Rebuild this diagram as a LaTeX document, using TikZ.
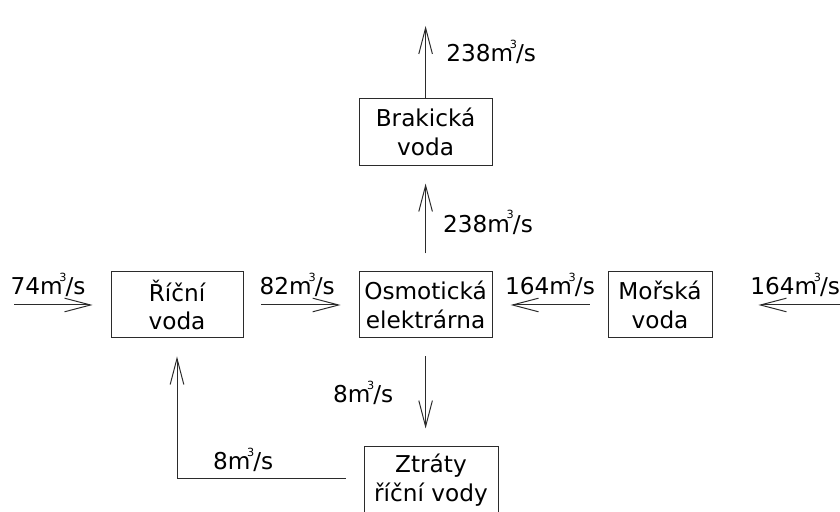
\documentclass[tikz,border=0pt]{standalone}
\usepackage{fontspec}
\setmainfont{DejaVu Sans}
\usetikzlibrary{arrows.meta,positioning}
\definecolor{Ink}{HTML}{2B2B2B}
\newcommand{\mcs}{m\kern-0.14em\raisebox{0.6em}{\fontsize{8}{8}\selectfont 3}\kern-0.04em/s}

\begin{document}
\begin{tikzpicture}[
  font=\fontsize{16.5}{20.5}\selectfont,
  box/.style={draw=Ink,line width=0.7pt,minimum height=1.65cm,align=center,inner sep=1pt},
  arrow/.style={-{Straight Barb[length=6.5mm,width=3.4mm]},line width=0.7pt,draw=Ink,shorten <=4.5mm,shorten >=4.5mm},
  qty/.style={anchor=base,inner sep=0pt}
]
\clip (0,0) rectangle (21,12.8);
\useasboundingbox (0,0) rectangle (21,12.8);
% boxes
\node[box,minimum width=3.3cm] (river) at (4.425,5.175) {Říční\\voda};
\node[box,minimum width=3.325cm] (plant) at (10.64,5.175) {Osmotická\\elektrárna};
\node[box,minimum width=2.6cm] (sea) at (16.5,5.175) {Mořská\\voda};
\node[box,minimum width=3.325cm,minimum height=1.675cm] (brack) at (10.64,9.51) {Brakická\\voda};
\node[box,minimum width=3.35cm] (loss) at (10.775,0.8) {Ztráty\\říční vody};
% free ends
\coordinate (outTop) at (10.64,12.6);
\coordinate (inLeft) at (0.35,5.175);
\coordinate (inRight) at (21.1,5.175);
\coordinate (turn) at (4.425,0.825);
% flows
\draw[arrow,shorten <=0pt] (brack.north) -- (outTop);
\draw[arrow] (plant.north) -- (brack.south);
\draw[arrow,shorten <=0pt] (inLeft) -- (river.west);
\draw[arrow] (river.east) -- (plant.west);
\draw[arrow] (sea.west) -- (plant.east);
\draw[arrow,shorten <=0pt,shorten >=11.5mm] (inRight) -- (sea.east);
\draw[arrow] (plant.south) -- (plant.south |- loss.north);
\draw[arrow] (loss.west |- turn) -- (turn) -- (river.south);
% quantities
\node[qty] (qOut) at (12.28,11.25) {238\mcs};
\node[qty] (qBrack) at (12.2,6.98) {238\mcs};
\node[qty] (qIn) at (1.2,5.425) {74\mcs};
\node[qty] (qRiver) at (7.43,5.425) {82\mcs};
\node[qty] (qSea) at (13.75,5.425) {164\mcs};
\node[qty] (qSeaIn) at (19.88,5.425) {164\mcs};
\node[qty] (qLoss) at (9.08,2.725) {8\mcs};
\node[qty] (qBack) at (6.08,1.05) {8\mcs};
\end{tikzpicture}
\end{document}
